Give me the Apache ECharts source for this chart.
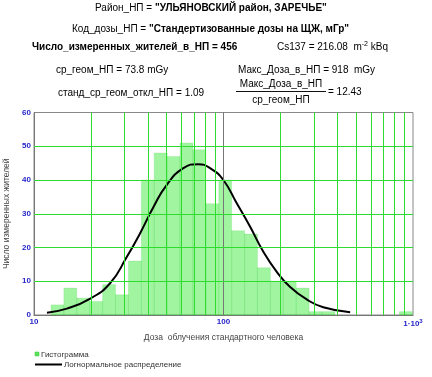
<!DOCTYPE html>
<html><head><meta charset="utf-8">
<script src="https://cdn.jsdelivr.net/npm/echarts@6/dist/echarts.min.js"></script>
<style>html,body{margin:0;padding:0;background:#fff}#c{width:432px;height:377px}</style>
</head><body><div id="c"></div>
<script>
// histogram bin edges (dose, mGy) and counts
var binEdges = [12.30, 14.38, 16.82, 19.68, 23.02, 26.93, 31.50, 36.85, 43.10, 50.42, 58.98, 69.01, 80.70, 94.41, 110.4, 129.2, 151.1, 176.8, 206.8, 241.9, 282.9, 331.0, 387.1, 452.9, 529.8, 619.7, 725.0, 847.9, 992.0];
var counts = [3, 8, 5, 4, 9, 6, 16, 40, 48, 47, 51, 49, 33, 40, 25, 24, 14, 10, 10, 8, 1, 1, 0, 0, 0, 0, 0, 1];
// lognormal curve
var curveX = [11.7, 14.9, 19.7, 25.2, 30.8, 36.2, 42.7, 50.1, 61.4, 73.6, 86.0, 99.8, 117.5, 138, 162, 191, 224, 275, 336, 466];
var curveY = [0.7, 1.9, 4.8, 9.4, 17.1, 24.1, 32.0, 38.5, 43.5, 44.7, 43.3, 40.0, 33.1, 26.2, 18.8, 12.8, 8.4, 4.6, 2.3, 0.8];
// axes
var xTicks = [10, 100, 1000];
var xMinorGrid = [20, 30, 40, 50, 60, 70, 80, 90, 200, 300, 400, 500, 600, 700, 800, 900];
var yGrid = [10, 20, 30, 40, 50];

var BLUE = '#2626c8', FONT = 'Liberation Sans, Arial, sans-serif';
var histData = counts.map(function (c, i) { return [binEdges[i], binEdges[i + 1], c]; });
var curveData = curveX.map(function (x, i) { return [x, curveY[i]]; });
var mlData = [];
xMinorGrid.forEach(function (v) { mlData.push({ xAxis: v, lineStyle: { color: '#2edc2e', width: 1, type: 'solid' } }); });
mlData.push({ xAxis: 100, lineStyle: { color: '#777', width: 1, type: 'solid' } });
yGrid.forEach(function (v) { mlData.push({ yAxis: v, lineStyle: { color: '#2edc2e', width: 1, type: 'solid' } }); });

function txt(x, y, rich, text, align) {
  return { type: 'text', style: { x: x, y: y, text: text, rich: rich, align: align || 'left', verticalAlign: 'middle', font: '10px ' + FONT } };
}
var R = {
  k: { fontFamily: FONT, fontSize: 10, color: '#111' },
  v: { fontFamily: FONT, fontSize: 10, color: BLUE, fontWeight: 'bold' },
  b: { fontFamily: FONT, fontSize: 10, color: BLUE },
  s: { fontFamily: FONT, fontSize: 7, color: '#111', verticalAlign: 'top', padding: [0, 0, 6, 0] }
};

var chart = echarts.init(document.getElementById('c'), null, { renderer: 'canvas' });
chart.setOption({
  animation: false,
  backgroundColor: '#fff',
  grid: { left: 34, right: 19, top: 112.5, bottom: 62, show: true, borderColor: '#888', borderWidth: 1, containLabel: false, outerBoundsMode: 'none' },
  xAxis: {
    type: 'log', logBase: 10, min: 10, max: 1000,
    name: 'Доза  облучения стандартного человека', nameLocation: 'middle', nameGap: 18,
    nameTextStyle: { fontFamily: FONT, fontSize: 8.5, color: '#444' },
    axisLine: { lineStyle: { color: '#777' } }, axisTick: { show: false }, splitLine: { show: false },
    axisLabel: {
      margin: 3, fontFamily: FONT, fontSize: 8, fontWeight: 'bold', color: BLUE,
      formatter: function (v) { return v >= 999 ? '{a|1·10}{s|3}' : String(Math.round(v)); },
      rich: { a: { fontFamily: FONT, fontSize: 8, fontWeight: 'bold', color: BLUE }, s: { fontFamily: FONT, fontSize: 6, fontWeight: 'bold', color: BLUE, verticalAlign: 'top', padding: [0, 0, 5, 0] } }
    }
  },
  yAxis: {
    type: 'value', min: 0, max: 60, interval: 10,
    name: 'Число измеренных жителей', nameLocation: 'middle', nameGap: 21, nameRotate: 90,
    nameTextStyle: { fontFamily: FONT, fontSize: 8.5, color: '#444' },
    axisLine: { show: true, lineStyle: { color: '#777' } }, axisTick: { show: false }, splitLine: { show: false },
    axisLabel: { margin: 3, fontFamily: FONT, fontSize: 8, fontWeight: 'bold', color: BLUE }
  },
  series: [
    { type: 'line', data: [], z: 1, silent: true,
      markLine: { silent: true, symbol: 'none', label: { show: false }, animation: false, data: mlData } },
    { type: 'custom', z: 2, data: histData, encode: { x: [0, 1], y: 2 },
      renderItem: function (params, api) {
        var c = api.value(2);
        if (!c) return null;
        var p1 = api.coord([api.value(0), c]);
        var p2 = api.coord([api.value(1), 0]);
        return { type: 'rect', shape: { x: p1[0], y: p1[1], width: p2[0] - p1[0], height: p2[1] - p1[1] },
          style: { fill: 'rgba(20,230,20,0.40)', stroke: 'rgba(40,200,40,0.25)', lineWidth: 0.6 } };
      } },
    { type: 'line', z: 3, data: curveData, smooth: true, showSymbol: false, symbol: 'none',
      lineStyle: { color: '#000', width: 2 } }
  ],
  graphic: [
    txt(95, 8, R, '{k|Район_НП = }{v|"УЛЬЯНОВСКИЙ район, ЗАРЕЧЬЕ"}'),
    txt(72, 29, R, '{k|Код_дозы_НП = }{v|"Стандертизованные дозы на ЩЖ, мГр"}'),
    txt(32, 47, R, '{v|Число_измеренных_жителей_в_НП = 456}'),
    txt(277, 47, R, '{k|Cs137 = }{b|216.08}{k|  m}{s|-2}{k| kBq}'),
    txt(56, 70, R, '{k|ср_геом_НП = }{b|73.8}{k| mGy}'),
    txt(238, 70, R, '{k|Макс_Доза_в_НП = }{b|918}{k|  mGy}'),
    txt(58, 93, R, '{k|станд_ср_геом_откл_НП = }{b|1.09}'),
    txt(281, 84, R, '{k|Макс_Доза_в_НП}', 'center'),
    { type: 'line', shape: { x1: 236, y1: 91.5, x2: 326, y2: 91.5 }, style: { stroke: '#111', lineWidth: 1 } },
    txt(281, 100, R, '{k|ср_геом_НП}', 'center'),
    txt(328, 92, R, '{k|= }{b|12.43}'),
    { type: 'rect', shape: { x: 35, y: 352, width: 4, height: 4 }, style: { fill: '#5ee05e', stroke: '#3c3', lineWidth: 0.5 } },
    { type: 'text', style: { x: 41, y: 354.5, text: 'Гистограмма', font: '8px ' + FONT, fill: '#333', verticalAlign: 'middle' } },
    { type: 'line', shape: { x1: 35, y1: 364.5, x2: 62, y2: 364.5 }, style: { stroke: '#000', lineWidth: 2 } },
    { type: 'text', style: { x: 64, y: 364.5, text: 'Логнормальное распределение', font: '8px ' + FONT, fill: '#333', verticalAlign: 'middle' } }
  ]
});
</script>
</body></html>
